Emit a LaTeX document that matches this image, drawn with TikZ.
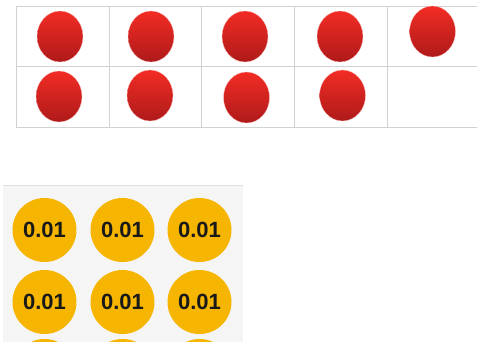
\documentclass[tikz,border=0pt]{standalone}
\usepackage{fontspec}
\setmainfont{Liberation Sans}
\usetikzlibrary{shapes.geometric}
\definecolor{gridgray}{HTML}{D2D2D2}
\definecolor{ballhi}{HTML}{F22C24}
\definecolor{balllo}{HTML}{AE1A1A}
\definecolor{coinyel}{HTML}{F6B500}
\definecolor{panelbg}{HTML}{F5F5F5}
\begin{document}
\begin{tikzpicture}[x=1pt,y=-1pt,
  ball/.style={ellipse,minimum width=46pt,minimum height=51pt,inner sep=0pt,
    top color=ballhi,bottom color=balllo,draw=ballhi!30,line width=0.3pt},
  coin/.style={circle,fill=coinyel,minimum size=64pt,inner sep=0pt,
    font=\bfseries\fontsize{22}{22}\selectfont,text=black!90}]
\useasboundingbox (0,0) rectangle (477,342);
% ten frame
\draw[gridgray,line width=0.8pt] (16,6) -- (477,6) (16,66) -- (477,66) (16,127) -- (477,127);
\foreach \x in {16,109,201,294,387} {\draw[gridgray,line width=0.8pt] (\x,6) -- (\x,127);}
\node[ball] (b1) at (60,36.5) {};
\node[ball] (b2) at (151,36.5) {};
\node[ball] (b3) at (245,36.5) {};
\node[ball] (b4) at (340,36.5) {};
\node[ball] (b5) at (432.5,31.5) {};
\node[ball] (b6) at (59,96.5) {};
\node[ball] (b7) at (150,95.5) {};
\node[ball] (b8) at (246.5,97.5) {};
\node[ball] (b9) at (342.5,95.5) {};
% coins panel
\fill[panelbg] (3,185) rectangle (243,342);
\draw[black!12,line width=0.8pt] (3,185) -- (243,185);
\begin{scope}
\clip (3,185) rectangle (243,342);
\foreach \r/\y in {1/230,2/302} {
  \foreach \c/\x in {1/44.5,2/122.5,3/199.5} {\node[coin] (c\r\c) at (\x,\y) {0.01};}
}
% third row, cut off by the panel edge
\foreach \c/\x in {1/44.5,2/122.5,3/199.5} {\node[coin] (c3\c) at (\x,371) {};}
\end{scope}
\end{tikzpicture}
\end{document}
